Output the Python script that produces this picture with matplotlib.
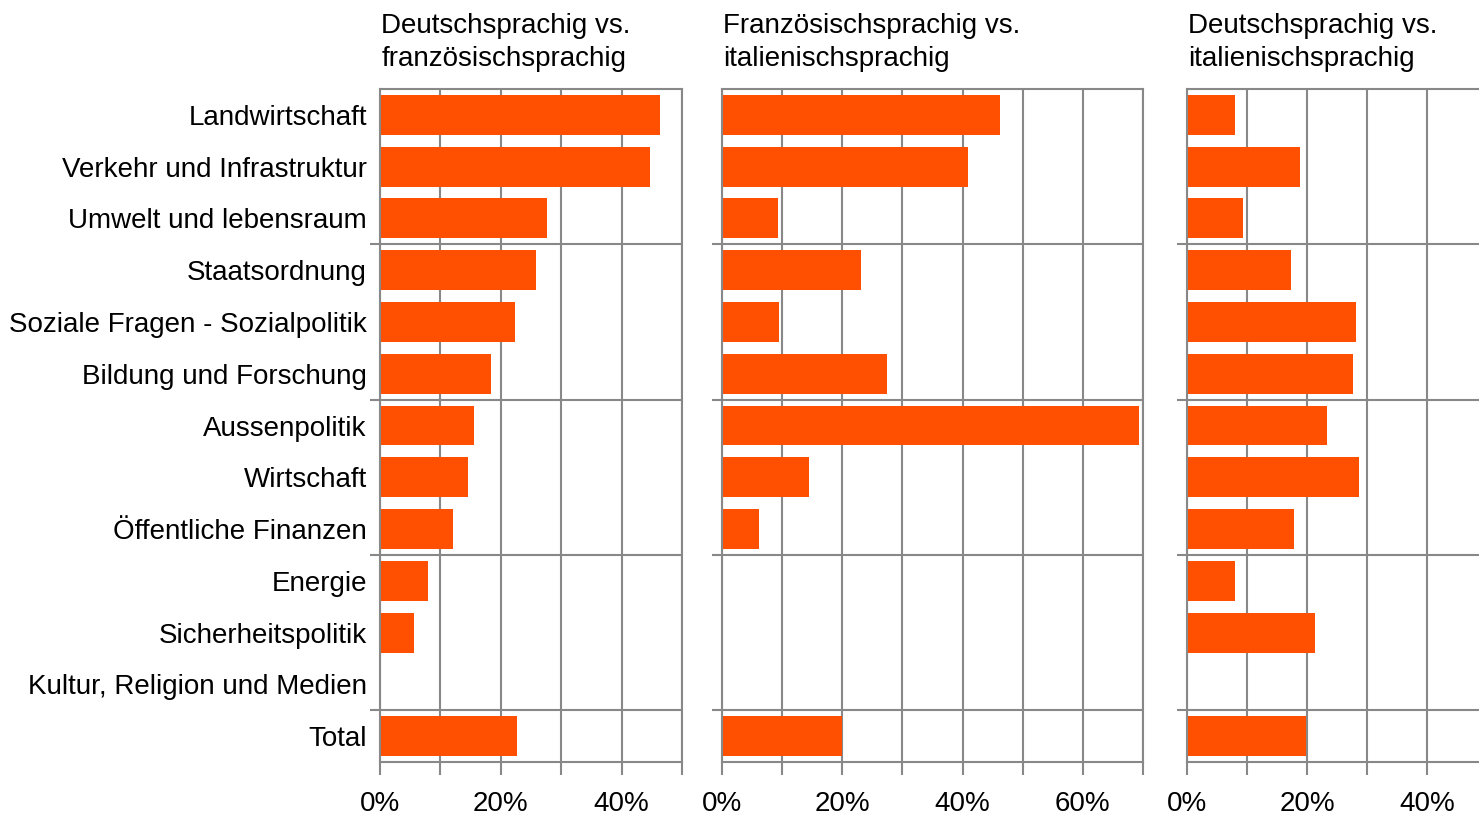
import matplotlib.pyplot as plt
import numpy as np
from matplotlib.ticker import FuncFormatter

plt.rcParams['font.family'] = ['Liberation Sans', 'DejaVu Sans']

categories = ['Landwirtschaft', 'Verkehr und Infrastruktur', 'Umwelt und lebensraum',
              'Staatsordnung', 'Soziale Fragen - Sozialpolitik', 'Bildung und Forschung',
              'Aussenpolitik', 'Wirtschaft', 'Öffentliche Finanzen', 'Energie',
              'Sicherheitspolitik', 'Kultur, Religion und Medien', 'Total']

titles = ['Deutschsprachig vs.\nfranzösischsprachig',
          'Französischsprachig vs.\nitalienischsprachig',
          'Deutschsprachig vs.\nitalienischsprachig']

de_fr = [46.3, 44.7, 27.6, 25.9, 22.4, 18.4, 15.6, 14.6, 12.1, 8.0, 5.6, 0, 22.6]
fr_it = [46.3, 40.9, 9.3, 23.1, 9.5, 27.4, 69.3, 14.5, 6.1, 0, 0, 0, 19.9]
de_it = [8.0, 18.8, 9.3, 17.4, 28.1, 27.6, 23.4, 28.7, 17.8, 8.0, 21.3, 0, 19.9]

series = [de_fr, fr_it, de_it]
xmax = [0.5, 0.7, 0.5]

W, H = 1479, 816
# axes boxes in pixels: left, right
boxes = [(380, 682), (722, 1143), (1187, 1487)]
top, bottom = 89, 762

bar_color = '#ff4f00'
grid_color = '#888888'

fig = plt.figure(figsize=(W / 100, H / 100), dpi=100)

y = np.arange(len(categories))
for i, (vals, (l, r)) in enumerate(zip(series, boxes)):
    ax = fig.add_axes([l / W, (H - bottom) / H, (r - l) / W, (bottom - top) / H])
    ax.barh(y, np.array(vals) / 100, height=0.77, color=bar_color, zorder=2)
    ax.set_ylim(len(categories) - 0.5, -0.5)
    ax.set_xlim(0, xmax[i])
    ax.set_axisbelow(True)

    ax.set_yticks(y)
    if i == 0:
        ax.set_yticklabels(categories, fontsize=20)
    else:
        ax.set_yticklabels([])
    ax.set_yticks([2.5, 5.5, 8.5, 11.5], minor=True)
    ax.tick_params(axis='y', which='major', length=0, pad=9.5)
    ax.tick_params(axis='y', which='minor', length=7.5, width=1.5, color=grid_color)
    ax.grid(axis='y', which='minor', color=grid_color, linewidth=1.5)

    ax.set_xticks(np.arange(0, xmax[i] + 0.001, 0.1))
    ax.xaxis.set_major_formatter(FuncFormatter(
        lambda v, p: '%d%%' % round(v * 100) if round(v * 100) % 20 == 0 else ''))
    ax.tick_params(axis='x', length=9, width=1.5, color=grid_color, labelsize=20, pad=12)
    ax.grid(axis='x', which='major', color=grid_color, linewidth=1.5)

    for s in ax.spines.values():
        s.set_color(grid_color)
        s.set_linewidth(1.5)

    ax.annotate(titles[i], xy=(0, 1), xycoords='axes fraction', xytext=(1, 12),
                textcoords='offset points', ha='left', va='bottom', fontsize=20,
                linespacing=1.38)

plt.savefig('out.png', dpi=100)
